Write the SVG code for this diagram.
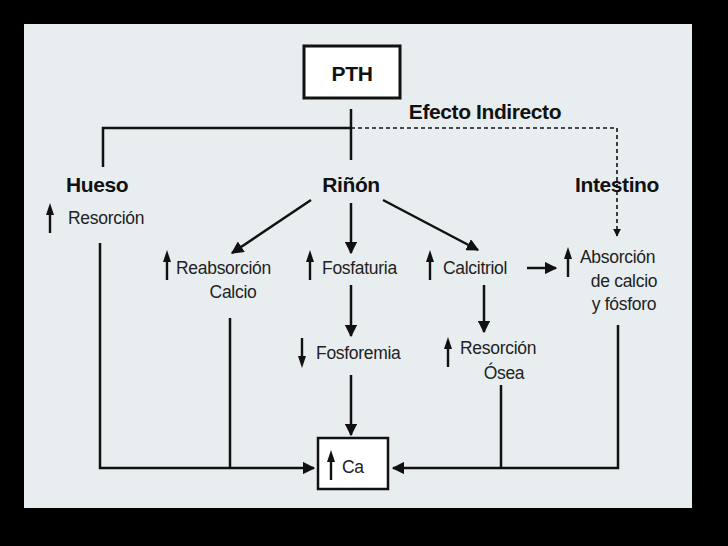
<svg xmlns="http://www.w3.org/2000/svg" width="728" height="546" viewBox="0 0 728 546">
<style>
.t{font-family:"Liberation Sans",Arial,sans-serif;font-size:17.5px;fill:#222;letter-spacing:-0.3px}
.b{font-family:"Liberation Sans",Arial,sans-serif;font-size:21px;font-weight:bold;fill:#111;letter-spacing:-0.4px}
.l{stroke:#111;stroke-width:2.5;fill:none}
.d{stroke:#111;stroke-width:1.6;fill:none;stroke-dasharray:4 3}
.u{fill:#111}
</style>
<defs>
<marker id="a" viewBox="0 0 10 10" refX="9" refY="5" markerWidth="5" markerHeight="5" orient="auto"><path d="M0,0L10,5L0,10z" fill="#111"/></marker>
<g id="up"><path d="M0,-15L-4,-3L-1.2,-3L-1.2,15L1.2,15L1.2,-3L4,-3z" class="u"/></g>
</defs>
<rect width="728" height="546" fill="#000"/>
<rect x="24" y="24" width="668" height="484" fill="#e8eef0"/>
<g id="connectors">
<path class="l" d="M351,109V160M103,167V128H351"/>
<path class="d" d="M351,128H617V236" marker-end="url(#a)"/>
<path class="l" d="M100,243V468H314" marker-end="url(#a)"/>
<path class="l" d="M230,318V468"/>
<path class="l" d="M311,200L232,253" marker-end="url(#a)"/>
<path class="l" d="M351,203V253" marker-end="url(#a)"/>
<path class="l" d="M383,200L478,250" marker-end="url(#a)"/>
<path class="l" d="M527,268H556" marker-end="url(#a)"/>
<path class="l" d="M351,285V336" marker-end="url(#a)"/>
<path class="l" d="M484,285V332" marker-end="url(#a)"/>
<path class="l" d="M351,375V435" marker-end="url(#a)"/>
<path class="l" d="M501,385V468M618,325V468H393" marker-end="url(#a)"/>
</g>
<g id="pth"><rect x="304" y="46" width="96" height="52" fill="#fff" stroke="#111" stroke-width="3"/><text class="b" x="352" y="81" text-anchor="middle">PTH</text></g>
<text class="b" x="485" y="119" text-anchor="middle" font-size="15" letter-spacing="-1.2">Efecto Indirecto</text>
<g id="hueso"><text class="b" x="66" y="192">Hueso</text><use href="#up" x="50" y="218"/><text class="t" x="68" y="224">Resorción</text></g>
<g id="rinon"><text class="b" x="351" y="192" text-anchor="middle">Riñón</text></g>
<g id="intestino"><text class="b" x="617" y="192" text-anchor="middle">Intestino</text></g>
<g id="reabs"><use href="#up" x="167" y="265"/><text class="t" x="176" y="274">Reabsorción</text><text class="t" x="233" y="298" text-anchor="middle">Calcio</text></g>
<g id="fosfaturia"><use href="#up" x="310" y="265"/><text class="t" x="322" y="274">Fosfaturia</text></g>
<g id="calcitriol"><use href="#up" x="430" y="265"/><text class="t" x="443" y="274">Calcitriol</text></g>
<g id="absorcion"><use href="#up" x="568" y="262"/><text class="t" x="580" y="263">Absorción</text><text class="t" x="624" y="287" text-anchor="middle">de calcio</text><text class="t" x="624" y="310" text-anchor="middle">y fósforo</text></g>
<g id="fosforemia"><use href="#up" transform="translate(302,353) rotate(180)"/><text class="t" x="316" y="359">Fosforemia</text></g>
<g id="resosea"><use href="#up" x="448" y="352"/><text class="t" x="460" y="354">Resorción</text><text class="t" x="504" y="379" text-anchor="middle">Ósea</text></g>
<g id="ca"><rect x="318" y="438" width="70" height="51" fill="#fff" stroke="#111" stroke-width="2.5"/><use href="#up" x="331" y="465"/><text class="t" x="342" y="473" font-size="18">Ca</text></g>
</svg>
